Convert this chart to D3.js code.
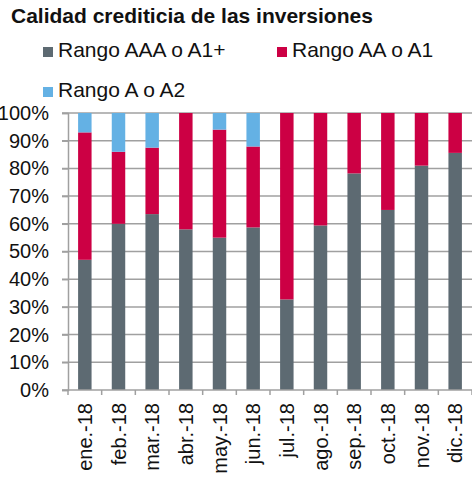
<!DOCTYPE html>
<html>
<head>
<meta charset="utf-8">
<script src="https://cdn.jsdelivr.net/npm/d3@7"></script>
<style>
  html, body { margin: 0; padding: 0; background: #fff; }
  svg { display: block; font-family: "Liberation Sans", Arial, sans-serif; }
</style>
</head>
<body>
<div id="chart"></div>
<script>
// Calidad crediticia de las inversiones — stacked share by rating bucket
const months = ['ene.-18', 'feb.-18', 'mar.-18', 'abr.-18', 'may.-18', 'jun.-18',
  'jul.-18', 'ago.-18', 'sep.-18', 'oct.-18', 'nov.-18', 'dic.-18'];
const seriesNames = ['Rango AAA o A1+', 'Rango AA o A1', 'Rango A o A2'];
const aaa = [47, 60, 63.5, 58, 55, 58.7, 32.7, 59.4, 78.2, 65, 81, 85.6];
const aa = [46, 26, 24, 42, 39, 29.2, 67.3, 40.6, 21.8, 35, 19, 14.4];
const a = [7, 14, 12.5, 0, 6, 12.1, 0, 0, 0, 0, 0, 0];
const yTicks = [0, 10, 20, 30, 40, 50, 60, 70, 80, 90, 100];
const colors = ['#5d6a72', '#cc0044', '#64b1e4'];

const W = 472, H = 480;
const margin = { top: 113, right: 0, bottom: 90, left: 68 };
const width = W - margin.left - margin.right;
const height = H - margin.top - margin.bottom;
const fs = 20;

const svg = d3.select('#chart').append('svg')
  .attr('width', W).attr('height', H);

svg.append('text')
  .attr('x', 11).attr('y', 23)
  .attr('font-size', 21).attr('font-weight', 'bold').attr('fill', '#111')
  .text('Calidad crediticia de las inversiones');

// Legend
const legendPos = [[43, 57], [277, 57], [43, 97]];
seriesNames.forEach((name, i) => {
  const [lx, ly] = legendPos[i];
  svg.append('rect').attr('x', lx).attr('y', ly - 10).attr('width', 10).attr('height', 10)
    .attr('fill', colors[i]);
  svg.append('text').attr('x', lx + 15).attr('y', ly)
    .attr('font-size', 21).attr('fill', '#111').text(name);
});

const g = svg.append('g').attr('transform', `translate(${margin.left},${margin.top})`);

const x = d3.scaleBand().domain(months).range([0, width]).paddingInner(0.6).paddingOuter(0.3);
const y = d3.scaleLinear().domain([0, 100]).range([height, 0]);

// Gridlines
g.selectAll('.grid').data(yTicks.filter((d) => d > 0)).enter().append('line')
  .attr('x1', -6).attr('x2', width)
  .attr('y1', (d) => y(d)).attr('y2', (d) => y(d))
  .attr('stroke', '#a0a0a0').attr('stroke-width', 1.5);

// Stacked bars
const rows = months.map((m, i) => ({ month: m, s0: aaa[i], s1: aa[i], s2: a[i] }));
const stack = d3.stack().keys(['s0', 's1', 's2']);
const layers = stack(rows);

g.selectAll('.layer').data(layers).enter().append('g')
  .attr('fill', (d, i) => colors[i])
  .selectAll('rect').data((d) => d).enter().append('rect')
  .attr('x', (d) => x(d.data.month))
  .attr('width', x.bandwidth())
  .attr('y', (d) => y(d[1]))
  .attr('height', (d) => y(d[0]) - y(d[1]));

// Y axis
const yAxis = d3.axisLeft(y).tickValues(yTicks).tickFormat((d) => `${d}%`).tickSize(6).tickPadding(13);
g.append('g').call(yAxis).call((sel) => {
  sel.select('.domain').attr('stroke', '#a0a0a0').attr('stroke-width', 1.5);
  sel.selectAll('line').attr('stroke', '#a0a0a0').attr('stroke-width', 1.5);
  sel.selectAll('text').attr('font-size', fs).attr('fill', '#111')
    .attr('font-family', '"Liberation Sans", Arial, sans-serif');
});

// X axis
const xStep = x.step();
const tickPos = d3.range(months.length + 1).map((i) => i * xStep);
const xg = g.append('g').attr('transform', `translate(0,${height})`);
xg.append('line').attr('x1', -6).attr('x2', width).attr('y1', 0).attr('y2', 0)
  .attr('stroke', '#a0a0a0').attr('stroke-width', 1.5);
xg.selectAll('.xt').data(tickPos).enter().append('line')
  .attr('x1', (d) => d).attr('x2', (d) => d).attr('y1', 0).attr('y2', 5)
  .attr('stroke', '#a0a0a0').attr('stroke-width', 1.5);
xg.selectAll('.xl').data(months).enter().append('text')
  .attr('transform', (d) => `translate(${x(d) + x.bandwidth() / 2 + 7},13) rotate(-90)`)
  .attr('text-anchor', 'end')
  .attr('font-size', fs).attr('fill', '#111')
  .text((d) => d);
</script>
</body>
</html>
